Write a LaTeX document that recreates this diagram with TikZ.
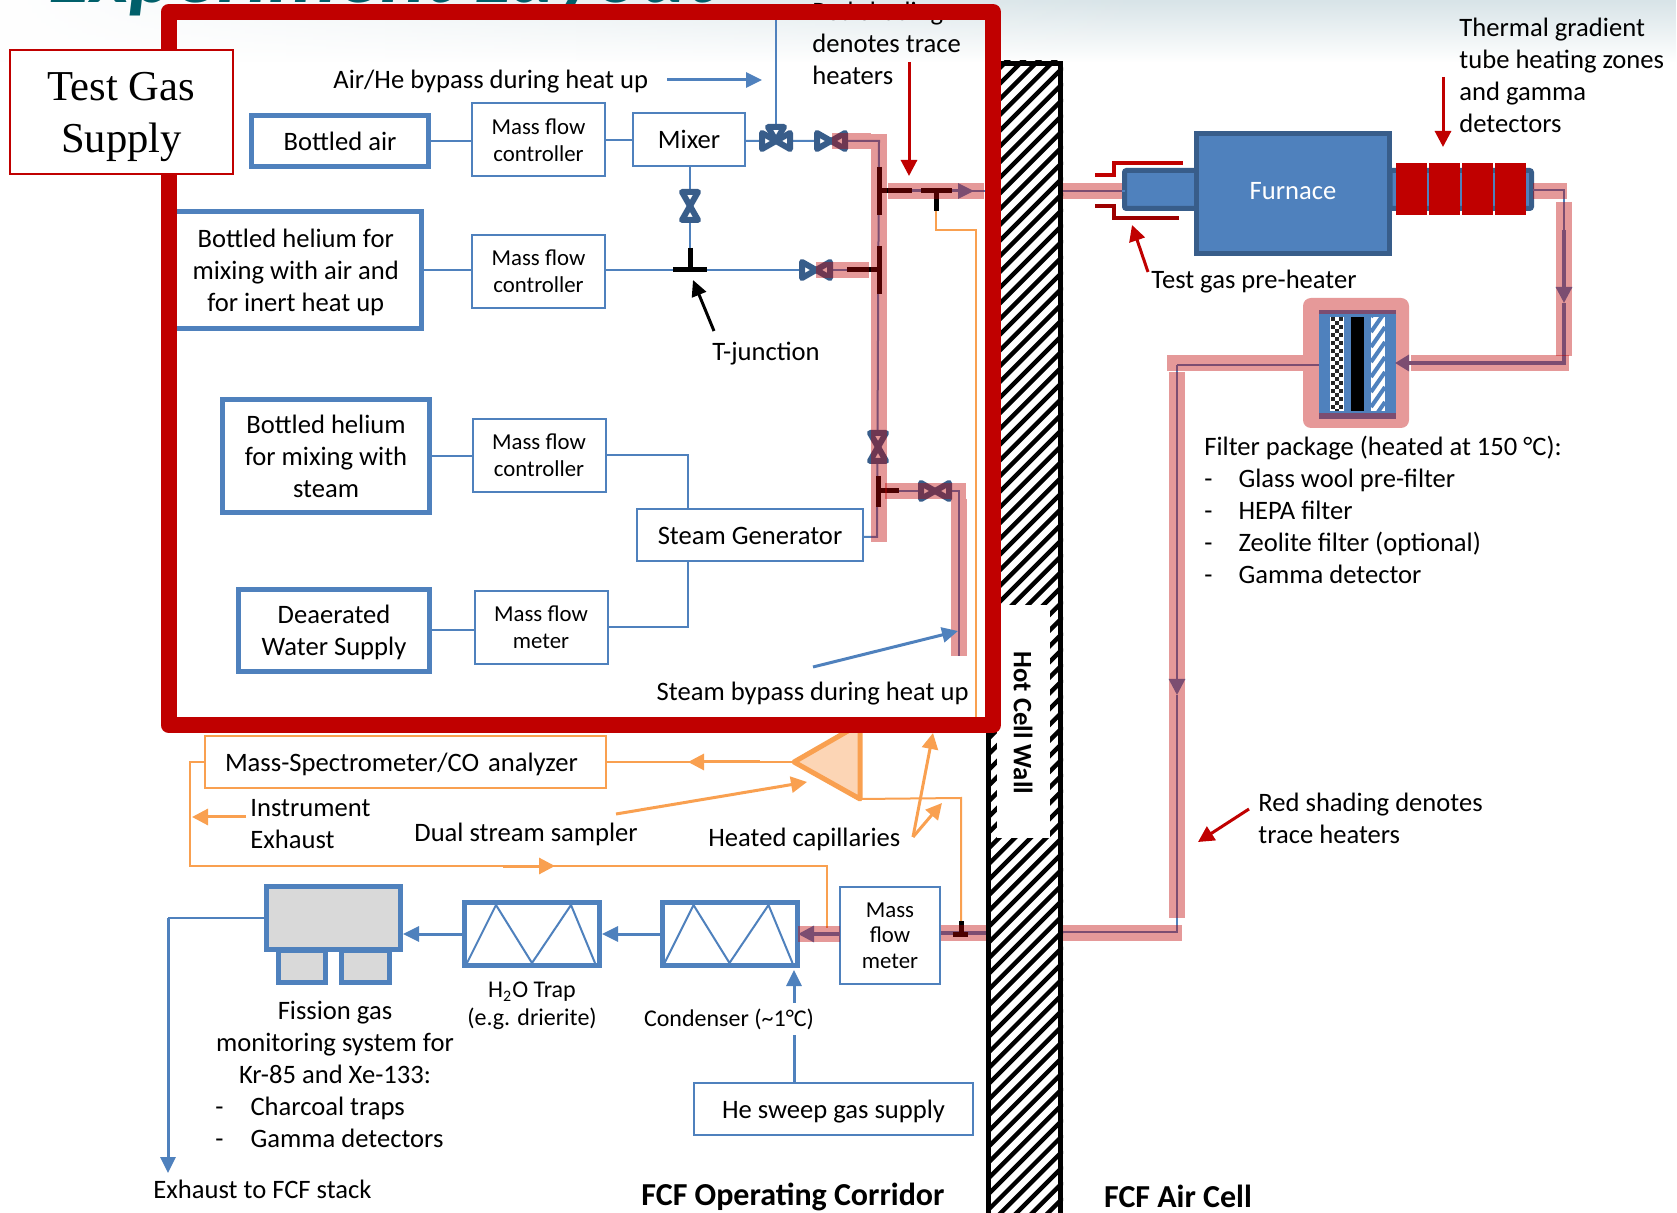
\documentclass[tikz,border=0pt]{standalone}
\usepackage{fontspec}
\setmainfont{Carlito}
\newfontfamily\timesfont{Liberation Serif}
\usetikzlibrary{arrows.meta,positioning,fadings}
\definecolor{pipeblue}{HTML}{4F81BD}
\definecolor{darkblue}{HTML}{385D8A}
\definecolor{heatred}{HTML}{C00000}
\definecolor{heatpink}{HTML}{E69999}
\definecolor{pipepurple}{HTML}{7C4D71}
\definecolor{sampleorange}{HTML}{F9A050}
\definecolor{samplefill}{HTML}{FCD5B5}
\definecolor{monitorgrey}{HTML}{D9D9D9}
\definecolor{titleteal}{HTML}{005F6A}
\definecolor{bgtint}{HTML}{D8E4E8}
\tikzset{
  bottlebox/.style={
    rectangle, draw=pipeblue, fill=white, line width=2.5pt,
    font=\fontsize{13.3}{16}\selectfont, align=center, inner sep=1pt, text depth=0pt
  },
  mfcbox/.style={
    rectangle, draw=pipeblue, fill=white, line width=1pt,
    minimum width=66.5pt, minimum height=36.5pt,
    font=\fontsize{11.4}{13.4}\selectfont, align=center, inner sep=1pt
  },
  unitbox/.style={
    rectangle, draw=pipeblue, fill=white, line width=1pt,
    font=\fontsize{13.3}{16}\selectfont, align=center, inner sep=1pt
  },
  trapbox/.style={
    rectangle, draw=pipeblue, line width=2.5pt, fill=white,
    minimum width=67.5pt, minimum height=31.5pt, inner sep=0pt
  },
  greybox/.style={
    rectangle, draw=pipeblue, line width=2.5pt, fill=monitorgrey, inner sep=0pt
  },
  heatzone/.style={
    rectangle, fill=heatred, minimum width=15.5pt, minimum height=26pt, inner sep=0pt
  },
  txt/.style={font=\fontsize{13.3}{16}\selectfont, inner sep=0pt, align=left},
  smalltxt/.style={font=\fontsize{12}{14.2}\selectfont, inner sep=0pt, align=center},
  headtxt/.style={font=\fontsize{16}{18}\selectfont\bfseries, inner sep=0pt},
  bluepipe/.style={draw=pipeblue, line width=1pt},
  heavypipe/.style={draw=pipeblue, line width=1.6pt},
  purplepipe/.style={draw=pipepurple, line width=#1},
  purplepipe/.default=1pt,
  orangepipe/.style={draw=sampleorange, line width=1pt},
  blackbar/.style={draw=black, line width=2.5pt},
  heater/.style={draw=heatred, opacity=0.4, line width=8pt},
  bluearrow/.style={draw=pipeblue, line width=1.5pt, -{Triangle[length=8pt,width=7.5pt]}},
  redarrow/.style={draw=heatred, line width=1.5pt, -{Triangle[length=8pt,width=8pt]}},
  orangearrow/.style={draw=sampleorange, line width=1.5pt, -{Triangle[length=8pt,width=8pt]}},
  blackarrow/.style={draw=black, line width=1.5pt, -{Triangle[length=8pt,width=7.5pt]}},
  valvepart/.style={draw=darkblue, fill=white, line width=3pt, line join=round},
  valveh/.pic={
    \draw[valvepart] (0,0) -- (-14,-8) -- (-14,8) -- cycle;
    \draw[valvepart] (0,0) -- (14,-8) -- (14,8) -- cycle;
  },
  valvev/.pic={
    \draw[valvepart] (0,0) -- (-8,-14) -- (8,-14) -- cycle;
    \draw[valvepart] (0,0) -- (-8,14) -- (8,14) -- cycle;
  },
  zigzag/.pic={
    \draw[bluepipe] (-65,29) -- (-36,-29) -- (0,29) -- (39,-29) -- (63,29);
  },
}

\begin{document}
\begin{tikzpicture}[x=0.5pt, y=-0.5pt]
\useasboundingbox (0,0) rectangle (1677,1213);
% backdrop
\fill[white] (0,0) rectangle (1677,1213);
\fill[bgtint, path fading=south] (0,0) rectangle (1677,62);
\fill[white, path fading=east] (0,0) rectangle (1150,62);
\begin{scope}
  \clip (0,0) rectangle (1677,1213);
  \node[anchor=base west, inner sep=0pt, text=titleteal, font=\fontsize{43}{43}\selectfont\bfseries\itshape] (slide-title) at (48,3) {Experiment Layout};
\end{scope}
\node[txt, anchor=north west] (trace-note) at (812,2) {Red shading\\denotes trace\\heaters};

% hot cell wall
\begin{scope}
  \clip (986,61) rectangle (1063,1213);
  \foreach \ypos in {66,81.7,...,1300}
    \draw[black, line width=2.2pt] (986,\ypos) -- (1063,\ypos-77);
\end{scope}
\fill[white] (997,605) rectangle (1050,838);
\draw[black, line width=2.5pt] (988,1213) -- (988,63.5) -- (1060.5,63.5) -- (1060.5,1213);
\node[headtxt, font=\fontsize{13.3}{16}\selectfont\bfseries, rotate=-90] (wall-label) at (1023,723) {Hot Cell Wall};

% test gas supply
\node[bottlebox, minimum width=88.5pt, minimum height=25.5pt] (bottled-air) at (340,141) {Bottled air};
\node[bottlebox, minimum width=125.75pt, minimum height=58.5pt] (bottled-he) at (295.75,270) {Bottled helium for\\mixing with air and\\for inert heat up};
\node[bottlebox, minimum width=103.5pt, minimum height=56.5pt] (bottled-steam) at (326,456) {Bottled helium\\for mixing with\\steam};
\node[bottlebox, minimum width=95.5pt, minimum height=41pt] (water-supply) at (334,630.5) {Deaerated\\Water Supply};
\node[mfcbox] (mfc-air) at (538.5,140) {Mass flow\\controller};
\node[mfcbox] (mfc-he) at (538.5,271.5) {Mass flow\\controller};
\node[mfcbox] (mfc-steam) at (539,455.5) {Mass flow\\controller};
\node[mfcbox] (meter-water) at (541,627.5) {Mass flow\\meter};
\node[unitbox, minimum width=56pt, minimum height=26.5pt, right=13pt of mfc-air.east, yshift=0.25pt] (mixer) {Mixer};
\node[unitbox, minimum width=113pt, minimum height=26pt] (steam-gen) at (750,535) {\raisebox{-0.5pt}[\height][\depth]{Steam Generator}};

\coordinate (valve-bypass) at (776,141);
\coordinate (valve-air) at (831,141);
\coordinate (valve-mixer) at (690,206);
\coordinate (tee-mixer) at (690,270);
\coordinate (valve-he) at (816,270);
\coordinate (valve-upper) at (878,447);
\coordinate (valve-steam) at (935,491);
\coordinate (corner-air) at (879,141);
\coordinate (corner-gen) at (877,537);
\coordinate (riser-he) at (879,270);
\coordinate (riser-out) at (879,191);
\coordinate (out-tip) at (974,191);
\coordinate (frame-out) at (985,191);
\coordinate (riser-steam) at (878,491);
\coordinate (corner-steam) at (959,491);
\coordinate (steam-end) at (959,656);
\coordinate (bypass-top) at (776,20);
\coordinate (steam-join) at (688,535);

\draw[bluepipe] (bottled-air.east) -- (bottled-air.east -| mfc-air.west);
\draw[bluepipe] (bottled-he.east) -- (bottled-he.east -| mfc-he.west);
\draw[bluepipe] (bottled-steam.east) -- (bottled-steam.east -| mfc-steam.west);
\draw[bluepipe] (water-supply.east) -- (water-supply.east -| meter-water.west);
\draw[bluepipe] (mfc-air.east) -- (mfc-air.east -| mixer.west);
\draw[bluepipe] (mixer.east |- valve-bypass) -- (valve-bypass) -- (valve-air) -- (corner-air) -- (corner-gen) -- (corner-gen -| steam-gen.east);
\draw[bluepipe] (bypass-top) -- (valve-bypass);
\draw[bluepipe] (mixer.south -| tee-mixer) -- (tee-mixer);
\draw[bluepipe] (mfc-he.east |- tee-mixer) -- (valve-he) -- (riser-he);
\draw[bluepipe] (mfc-steam.east) -| (steam-join |- steam-gen.north);
\draw[bluepipe] (meter-water.east) -| (steam-join |- steam-gen.south);
\draw[bluepipe] (riser-out) -- (frame-out);
\draw[bluepipe] (riser-steam) -- (corner-steam) -- (steam-end);
\draw[bluearrow] (riser-out) -- (out-tip);

% valves and tees
\pic at (valve-air) {valveh};
\pic at (valve-he) {valveh};
\pic at (valve-steam) {valveh};
\pic at (valve-mixer) {valvev};
\pic at (valve-upper) {valvev};
\pic at (valve-bypass) {valveh};
\draw[valvepart] (valve-bypass) -- ++(-8,-14) -- ++(16,0) -- cycle;
\draw[blackbar] (riser-out |- 0,167) -- (riser-out |- 0,215);
\draw[blackbar] (riser-out) -- (912,191);
\draw[blackbar] (921,191) -- (952,191);
\draw[blackbar] (936,191) -- (936,211);
\draw[blackbar] (riser-he |- 0,246) -- (riser-he |- 0,294);
\draw[blackbar] (847,270) -- (riser-he);
\draw[blackbar] (riser-steam |- 0,476) -- (riser-steam |- 0,507);
\draw[blackbar] (riser-steam) -- (899,491);
\draw[blackbar] (tee-mixer |- 0,248) -- (tee-mixer);
\draw[blackbar] (673,270) -- (707,270);

% sampling side
\coordinate (sampler-apex) at (794,762);
\coordinate (sampler-top) at (860,724);
\coordinate (sampler-low) at (860,799);
\coordinate (tee-top) at (936,211);
\coordinate (cap-a) at (936,230);
\coordinate (cap-b) at (976,230);
\coordinate (cap-c) at (976,718);
\coordinate (cap-low-a) at (961,798);
\coordinate (tee-low) at (961,921);
\coordinate (ms-west) at (190,762);
\coordinate (ms-south) at (190,866);
\coordinate (return-a) at (827,866);
\coordinate (return-b) at (827,928);
\coordinate (return-tail) at (503,866);
\coordinate (return-tip) at (555,866);
\coordinate (ms-tail) at (760,762);
\coordinate (ms-tip) at (688,762);
\coordinate (exhaust-tail) at (246,817);
\coordinate (exhaust-tip) at (192,817);
\coordinate (dual-tail) at (616,814);
\coordinate (dual-tip) at (807,782);
\coordinate (cap-label) at (913,837);
\coordinate (cap-tip-a) at (933,733);
\coordinate (cap-tip-b) at (942,803);

\node[unitbox, draw=sampleorange, minimum height=26pt, text width=180.5pt, inner xsep=10pt, align=left] (ms-box) at (405.5,762) {\raisebox{-1pt}[\height][\depth]{Mass-Spectrometer/CO analyzer}};
\draw[orangepipe] (tee-top) -- (cap-a) -- (cap-b) -- (cap-c);
\draw[orangepipe] (sampler-low) -- (cap-low-a) -- (tee-low);
\draw[orangepipe] (sampler-apex) -- (ms-box.east |- sampler-apex);
\draw[orangepipe] (ms-box.west) -- (ms-west) -- (ms-south) -- (return-a) -- (return-b);
\draw[orangearrow] (ms-tail) -- (ms-tip);
\draw[orangearrow] (return-tail) -- (return-tip);
\draw[orangearrow] (exhaust-tail) -- (exhaust-tip);
\draw[orangearrow] (dual-tail) -- (dual-tip);
\draw[draw=sampleorange, fill=samplefill, line width=2.5pt, line join=round] (sampler-apex) -- (sampler-top) -- (sampler-low) -- cycle;

% red frame round the supply
\draw[draw=heatred, line width=8pt, line join=round] (168.5,12) rectangle (993,725);
\node[draw=heatred, fill=white, line width=1pt, minimum width=111.5pt, minimum height=62pt, align=center, inner sep=0pt, font=\timesfont\fontsize{21.3}{26}\selectfont] (gas-supply) at (121.5,112) {\raisebox{-2.7pt}[\height][\depth]{Test Gas}\\\raisebox{-2.7pt}[\height][\depth]{Supply}};
\draw[orangearrow] (cap-label) -- (cap-tip-a);
\draw[orangearrow] (cap-label) -- (cap-tip-b);

% downstream train
\node[mfcbox, minimum width=50pt, minimum height=48.5pt, font=\fontsize{11.4}{12.7}\selectfont] (meter-flow) at (890,935.5) {Mass\\flow\\meter};
\node[trapbox] (condenser) at (729.5,934) {};
\node[trapbox] (water-trap) at (532,934) {};
\pic at (condenser) {zigzag};
\pic at (water-trap) {zigzag};
\node[greybox, minimum width=23.5pt, minimum height=16pt] (monitor-a) at (302,966) {};
\node[greybox, minimum width=24pt, minimum height=16pt] (monitor-b) at (365.5,966) {};
\node[greybox, minimum width=67pt, minimum height=31.5pt] (monitor) at (333.5,918) {};
\node[unitbox, minimum width=139.5pt, minimum height=26pt] (sweep-gas) at (833.5,1109) {\raisebox{-1.5pt}[\height][\depth]{He sweep gas supply}};

\coordinate (stack-corner) at (168,918);
\coordinate (stack-tip) at (168,1173);
\coordinate (sweep-top) at (794,1083);
\coordinate (sweep-tip) at (794,970);
\coordinate (corridor-wall) at (986,933);
\coordinate (tee-low-bar) at (961,934);
\coordinate (meter-tip) at (798,934);

\draw[bluepipe] (monitor.west |- stack-corner) -- (stack-corner);
\draw[bluearrow] (stack-corner) -- (stack-tip);
\draw[bluearrow] (condenser.west) -- (water-trap.east);
\draw[bluearrow] (water-trap.west) -- (water-trap.west -| monitor.east);
\draw[bluearrow] (sweep-top) -- (sweep-tip);
\draw[heavypipe] (corridor-wall) -- (corridor-wall -| meter-flow.east);
\draw[draw=pipeblue, line width=1.6pt, -{Triangle[length=8pt,width=8pt]}] (meter-flow.west |- meter-tip) -- (meter-tip);
\draw[blackbar] (953,934) -- (968,934);
\draw[blackbar] (tee-low-bar) -- (tee-low);
\node[smalltxt, fill=white, inner xsep=2pt, inner ysep=3pt] (condenser-label) at (729,1019) {Condenser (\textasciitilde1°C)};
\node[smalltxt] (trap-label) at (532,1006) {H\textsubscript{2}O Trap\\(e.g. drierite)};

% furnace
\coordinate (stub-a) at (1124.5,170.5);
\coordinate (stub-b) at (1200,208.5);
\coordinate (stub-c) at (1390,170.5);
\coordinate (stub-d) at (1531.5,208.5);
\draw[draw=darkblue, fill=pipeblue, line width=2.5pt, rounded corners=1pt] (stub-a) rectangle (stub-b);
\draw[draw=darkblue, fill=pipeblue, line width=2.5pt, rounded corners=1pt] (stub-c) rectangle (stub-d);
\node[rectangle, draw=darkblue, fill=pipeblue, line width=2.5pt, minimum width=96.5pt, minimum height=60pt, text=white, font=\fontsize{13.3}{16}\selectfont] (furnace) at (1293,193.5) {\raisebox{1pt}[\height][\depth]{Furnace}};
\foreach \xpos [count=\i] in {1411.5,1444.5,1477.5,1510.5}
  \node[heatzone] (zone-\i) at (\xpos,189) {};
\draw[draw=heatred, line width=1.75pt] (1095,175) -- (1114,175) -- (1114,163) -- (1183,163);
\draw[draw=heatred!82!black, line width=1.75pt] (1095,206) -- (1114,206) -- (1114,218) -- (1179,218);

% filter package
\coordinate (filter-in) at (1395,363);
\coordinate (filter-rim) at (1411,363);
\coordinate (filter-out) at (1319,365);
\coordinate (filter-edge) at (1303,365);
\coordinate (wall-right) at (1063,191);
\coordinate (furnace-end) at (1533,190);
\coordinate (riser-right) at (1564,190);
\coordinate (riser-heavy) at (1564,230);
\coordinate (riser-tip) at (1564,303);
\coordinate (corner-right) at (1564,363);
\coordinate (corner-left) at (1177,365);
\coordinate (air-tip) at (1177,695);
\coordinate (corner-low) at (1177,932);
\coordinate (air-wall) at (1063,932);

\node[rectangle, fill=heatpink, rounded corners=4pt, minimum width=53pt, minimum height=65pt, inner sep=0pt] (filter-shade) at (1356,363) {};
\node[rectangle, fill=pipeblue, minimum width=38.5pt, minimum height=54.5pt, inner sep=0pt] (filter-body) at (1357.5,364.5) {};
\fill[pipepurple] (filter-body.north west) rectangle ++(77,4);
\fill[pipepurple] (filter-body.south west) rectangle ++(77,-6);
\fill[white] (1330,317) rectangle (1344,411);
\begin{scope}
  \clip (1330,317) rectangle (1344,411);
  \foreach \ypos in {317,325,...,405} {
    \fill[black!85] (1331,\ypos) rectangle ++(4,4);
    \fill[black!85] (1339,\ypos) rectangle ++(4,4);
    \fill[black!85] (1335,\ypos+4) rectangle ++(4,4);
  }
\end{scope}
\fill[black] (1351,317) rectangle (1364,411);
\fill[white] (1371,317) rectangle (1385,411);
\begin{scope}
  \clip (1371,317) rectangle (1385,411);
  \foreach \ypos in {317,332,...,440}
    \draw[pipeblue, line width=2pt] (1371,\ypos) -- (1385,\ypos-20);
\end{scope}

\draw[bluepipe] (wall-right) -- (stub-a |- wall-right);
\draw[bluepipe] (furnace-end) -- (riser-right) -- (riser-heavy);
\draw[draw=pipeblue, line width=1.6pt, -{Triangle[length=8pt,width=8pt]}] (riser-heavy) -- (riser-tip);
\draw[heavypipe] (riser-tip) -- (corner-right) -- (filter-rim);
\draw[bluepipe] (filter-edge) -- (corner-left);
\draw[draw=pipeblue, line width=1.4pt, -{Triangle[length=8pt,width=8pt]}] (corner-left) -- (air-tip);
\draw[draw=pipeblue, line width=1.4pt] (air-tip) -- (corner-low) -- (air-wall);

% trace heating strips
\draw[heater] (832,141) -- (871,141);
\draw[heater] (878.5,134) -- (878.5,542);
\draw[heater] (888,191) -- (984,191);
\draw[heater] (816,270) -- (869,270);
\draw[heater] (885,491) -- (966,491);
\draw[heater] (959,499) -- (959,656);
\draw[heater] (1063,191) -- (1122,191);
\draw[heater] (1533,191.5) -- (1567,191.5);
\draw[heater] (1564,202) -- (1564,356);
\draw[heater] (1411,363) -- (1569,363);
\draw[heater] (1167,363) -- (1303,363);
\draw[heater] (1177,372) -- (1177,918);
\draw[heater] (1063,933) -- (1182,933);
\draw[heater] (941,933) -- (986,933);
\draw[heater] (798,934) -- (840,934);
\draw[purplepipe] (filter-out) -- (filter-edge);
\draw[draw=pipepurple, line width=1.6pt, -{Triangle[length=7pt,width=8pt]}] (filter-rim) -- (filter-in);

% annotations
\coordinate (bypass-tail) at (667,80);
\coordinate (bypass-tip) at (762,80);
\coordinate (trace-tail) at (909,62);
\coordinate (trace-tip) at (909,176);
\coordinate (zone-tail) at (1443,77);
\coordinate (zone-tip) at (1443,147);
\coordinate (preheat-tail) at (1148,272);
\coordinate (preheat-tip) at (1132,225);
\coordinate (tjunc-tail) at (714,331);
\coordinate (tjunc-tip) at (693,280);
\coordinate (steam-tail) at (813,667);
\coordinate (steam-tip) at (958,631);
\coordinate (shade-tail) at (1249,809);
\coordinate (shade-tip) at (1198,842);
\draw[bluearrow] (bypass-tail) -- (bypass-tip);
\draw[redarrow] (trace-tail) -- (trace-tip);
\draw[redarrow] (zone-tail) -- (zone-tip);
\draw[redarrow] (preheat-tail) -- (preheat-tip);
\draw[blackarrow] (tjunc-tail) -- (tjunc-tip);
\draw[bluearrow] (steam-tail) -- (steam-tip);
\draw[redarrow] (shade-tail) -- (shade-tip);

\node[txt, anchor=west] (bypass-label) at (333,82) {Air/He bypass during heat up};
\node[txt, anchor=north west] (zone-label) at (1459,18) {Thermal gradient\\tube heating zones\\and gamma\\detectors};
\node[txt, anchor=west] (preheat-label) at (1151,282) {Test gas pre-heater};
\node[txt] (tjunc-label) at (766,354) {T-junction};
\node[txt, anchor=east] (steam-label) at (969,694) {Steam bypass during heat up};
\node[txt, anchor=north west] (filter-label) at (1204,436) {Filter package (heated at 150 °C):\\-\hspace{13pt}Glass wool pre-filter\\-\hspace{13pt}HEPA filter\\-\hspace{13pt}Zeolite filter (optional)\\-\hspace{13pt}Gamma detector};
\node[txt, anchor=west] (shade-label) at (1258,818.5) {Red shading denotes\\trace heaters};
\node[txt, anchor=west] (exhaust-label) at (250,824) {Instrument\\Exhaust};
\node[txt, anchor=west] (dual-label) at (414,834) {Dual stream sampler};
\node[txt, anchor=west] (capillary-label) at (708,839) {Heated capillaries};
\node[txt, align=center] (monitor-label) at (335,1042) {Fission gas\\monitoring system for\\Kr-85 and Xe-133:};
\node[txt, anchor=west] (monitor-list) at (215,1122) {-\hspace{13.5pt}Charcoal traps\\-\hspace{13.5pt}Gamma detectors};
\node[txt, anchor=west] (stack-label) at (153,1189) {Exhaust to FCF stack};
\node[headtxt] (corridor-label) at (793,1197) {FCF Operating Corridor};
\node[headtxt] (aircell-label) at (1178,1196) {FCF Air Cell};
\end{tikzpicture}
\end{document}
